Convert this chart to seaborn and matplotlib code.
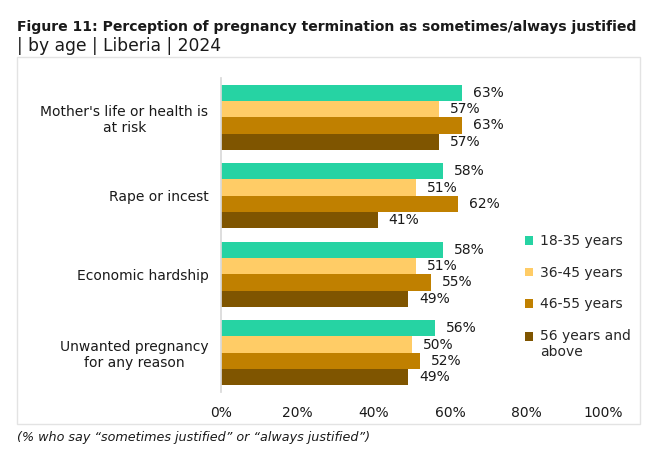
import matplotlib
matplotlib.use("Agg")
import matplotlib.pyplot as plt
from matplotlib.patches import Rectangle
import seaborn as sns
import pandas as pd

# Chart values
categories = ["Mother's life or health is\nat risk", "Rape or incest",
              "Economic hardship", "Unwanted pregnancy\nfor any reason"]
age_groups = ["18-35 years", "36-45 years", "46-55 years", "56 years and\nabove"]
age_18_35 = [63, 58, 58, 56]
age_36_45 = [57, 51, 51, 50]
age_46_55 = [63, 62, 55, 52]
age_56_up = [57, 41, 49, 49]
x_ticks = [0, 20, 40, 60, 80, 100]

colors = ["#26D3A3", "#FFCC66", "#C08000", "#7F5500"]

# long form table for seaborn
rows = []
for group, vals in zip(age_groups, [age_18_35, age_36_45, age_46_55, age_56_up]):
    for cat, v in zip(categories, vals):
        rows.append({"category": cat, "age": group, "value": v})
df = pd.DataFrame(rows)

sns.set_theme(style="white")
plt.rcParams["font.family"] = ["DejaVu Sans"]

fig = plt.figure(figsize=(6.66, 4.54), dpi=100)
ax = fig.add_axes([221 / 666, 1 - 392 / 454, 382 / 666, 314 / 454])

sns.barplot(data=df, y="category", x="value", hue="age", order=categories,
            hue_order=age_groups, palette=colors, orient="h", width=0.83,
            linewidth=0, saturation=1, ax=ax)

# value labels
for cont in ax.containers:
    ax.bar_label(cont, fmt="%d%%", padding=8, fontsize=10, color="#1a1a1a")

ax.set_xlim(0, 100)
ax.set_xticks(x_ticks)
ax.set_xticklabels([f"{t}%" for t in x_ticks], fontsize=10, color="#1a1a1a")
ax.set_yticklabels(categories, fontsize=10, color="#1a1a1a", ha="right",
                   multialignment="center")
ax.tick_params(axis="y", length=0, pad=9)
ax.tick_params(axis="x", length=0, pad=10)
ax.set_xlabel("")
ax.set_ylabel("")
for side in ["top", "right", "bottom"]:
    ax.spines[side].set_visible(False)
ax.spines["left"].set_color("#D9D9D9")
ax.grid(False)

# legend at right
handles, labels = ax.get_legend_handles_labels()
leg = ax.legend(handles, labels, loc="upper left", bbox_to_anchor=(512 / 666, 1 - 222 / 454),
                bbox_transform=fig.transFigure, frameon=False, fontsize=10,
                handlelength=0.6, handleheight=0.6, handletextpad=0.5, labelspacing=1.25)
# put the last marker on the first line of its two-line label
last = leg.legend_handles[-1]
last.set_y(last.get_y() + 5.5)

# outer frame
fig.add_artist(Rectangle((17 / 666, 1 - 424 / 454), 623 / 666, 367 / 454,
                         transform=fig.transFigure, fill=False,
                         edgecolor="#E3E3E3", linewidth=1))

fig.text(17 / 666, 1 - 27 / 454,
         "Figure 11: Perception of pregnancy termination as sometimes/always justified",
         fontsize=10.1, fontweight="bold", va="center", color="#1a1a1a")
fig.text(17 / 666, 1 - 46 / 454, "| by age | Liberia | 2024", fontsize=12.3,
         va="center", color="#1a1a1a")
fig.text(17 / 666, 1 - 437 / 454,
         "(% who say \u201csometimes justified\u201d or \u201calways justified\u201d)",
         fontsize=9.2, style="italic", va="center", color="#1a1a1a")

fig.savefig("out.png", dpi=100)
